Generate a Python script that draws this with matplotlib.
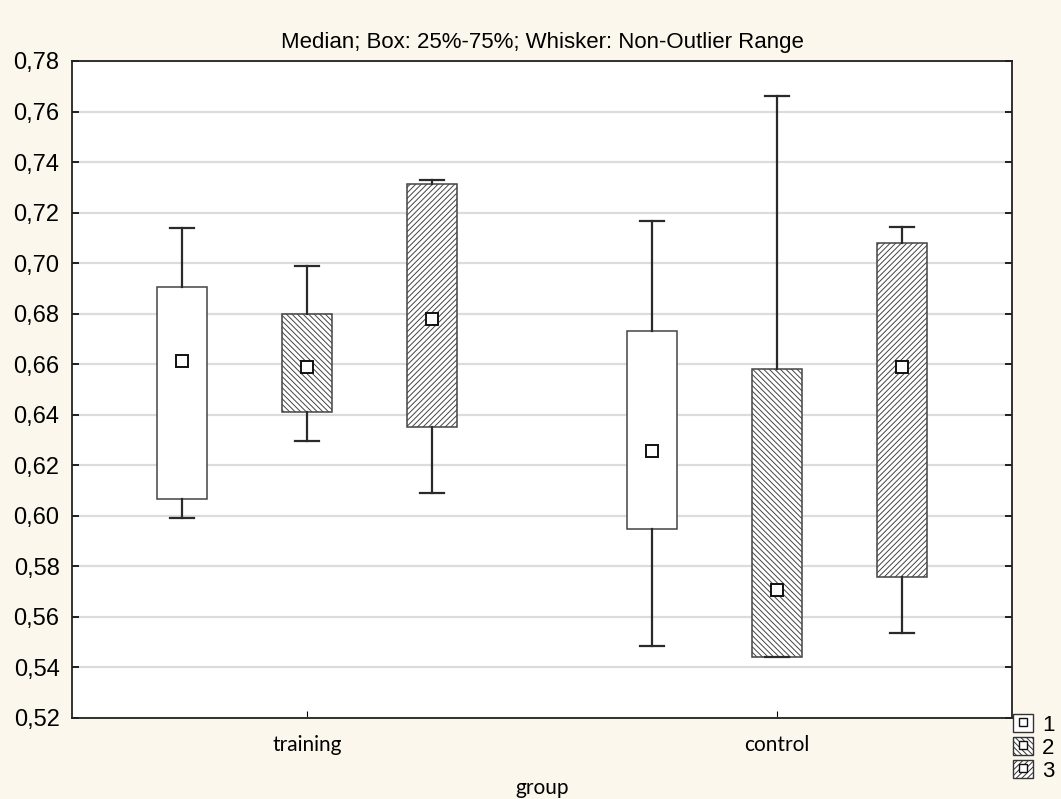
import matplotlib.pyplot as plt
from matplotlib.patches import Patch
from matplotlib.lines import Line2D
from matplotlib.legend_handler import HandlerTuple
from matplotlib.ticker import FuncFormatter

# box summary values
groups = ["training", "control"]
series = ["1", "2", "3"]
whisker_low = [[0.599, 0.6295, 0.609], [0.5485, 0.544, 0.5536]]
q1 = [[0.6067, 0.641, 0.635], [0.5948, 0.544, 0.5758]]
median = [[0.6613, 0.659, 0.678], [0.6257, 0.5705, 0.659]]
q3 = [[0.6906, 0.680, 0.7315], [0.673, 0.658, 0.708]]
whisker_high = [[0.714, 0.6988, 0.733], [0.7167, 0.766, 0.7143]]
hatches = ["", "\\\\\\\\\\\\", "//////"]

bg = "#fbf7ec"
plt.rcParams["font.family"] = ["Liberation Sans", "DejaVu Sans"]
plt.rcParams["hatch.color"] = "#6a6a6a"
plt.rcParams["hatch.linewidth"] = 0.7

fig = plt.figure(figsize=(10.61, 7.99), dpi=100, facecolor=bg)
ax = fig.add_axes([0.0679, 0.1014, 0.8859, 0.8223])
ax.set_facecolor("white")

offset = 0.266
box_w = 0.106
stats, positions = [], []
for gi in range(len(groups)):
    for si in range(len(series)):
        stats.append(dict(whislo=whisker_low[gi][si], q1=q1[gi][si], med=median[gi][si],
                          q3=q3[gi][si], whishi=whisker_high[gi][si], fliers=[]))
        positions.append(gi + (si - 1) * offset)

res = ax.bxp(stats, positions=positions, widths=box_w, capwidths=0.052,
             patch_artist=True, showfliers=False,
             boxprops=dict(edgecolor="#444444", linewidth=1.1, facecolor="white"),
             whiskerprops=dict(color="#2a2a2a", linewidth=1.6),
             capprops=dict(color="#2a2a2a", linewidth=1.6),
             medianprops=dict(visible=False), zorder=3)
for i, box in enumerate(res["boxes"]):
    box.set_hatch(hatches[i % 3])

meds = [m for row in median for m in row]
ax.plot(positions, meds, linestyle="none", marker="s", markersize=8.5,
        markerfacecolor="white", markeredgecolor="#111111", markeredgewidth=1.4, zorder=5)

ax.set_xlim(-0.5, 1.5)
ax.set_ylim(0.52, 0.78)
ax.set_yticks([0.52 + 0.02 * k for k in range(14)])
ax.yaxis.set_major_formatter(FuncFormatter(lambda v, p: f"{v:.2f}".replace(".", ",")))
ax.set_xticks([0, 1])
ax.set_xticklabels(groups, family=["Lato", "DejaVu Sans"], fontsize=15)
ax.tick_params(axis="y", direction="in", length=5, right=True, labelsize=17, width=1.2, pad=9)
ax.tick_params(axis="x", direction="in", length=5, top=False, pad=12)
ax.grid(axis="y", color="#dcdcdc", linewidth=1.6, zorder=0)
ax.set_axisbelow(True)
for s in ax.spines.values():
    s.set_color("#222222")
    s.set_linewidth(1.3)

ax.set_xlabel("group", family=["Lato", "DejaVu Sans"], fontsize=15, labelpad=17)
ax.set_title("Median; Box: 25%-75%; Whisker: Non-Outlier Range", fontsize=16, pad=9)

handles = []
for h in hatches:
    handles.append((Patch(facecolor="white", edgecolor="#333333", hatch=h, linewidth=1),
                    Line2D([], [], linestyle="none", marker="s", markersize=6,
                           markerfacecolor="white", markeredgecolor="#111111")))
fig.legend(handles, series, loc="lower left", bbox_to_anchor=(0.951, 0.016),
           frameon=False, fontsize=16, handlelength=0.9, handleheight=0.9,
           handletextpad=0.4, labelspacing=0.05, borderpad=0.1, borderaxespad=0.1,
           handler_map={tuple: HandlerTuple(ndivide=1)})

fig.savefig("out.png", dpi=100, facecolor=bg)
